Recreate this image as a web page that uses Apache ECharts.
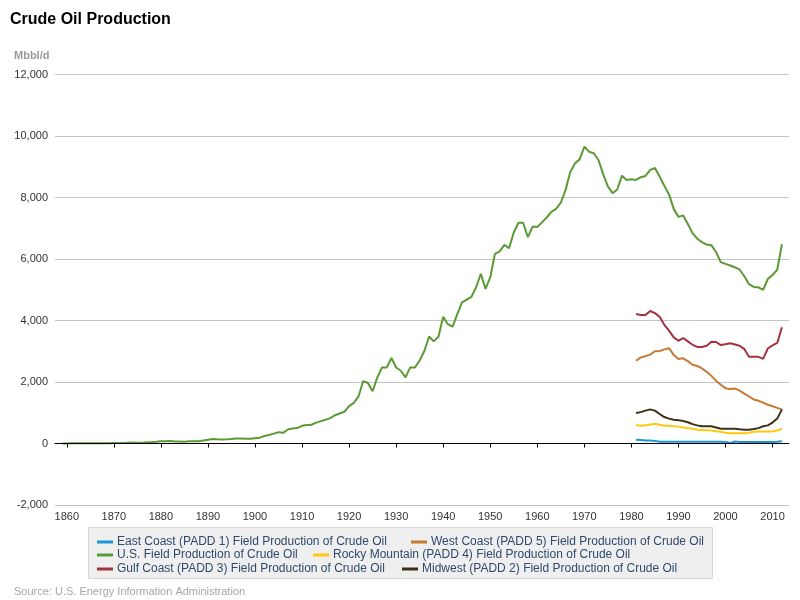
<!DOCTYPE html>
<html>
<head>
<meta charset="utf-8">
<script src="https://cdn.jsdelivr.net/npm/echarts@6/dist/echarts.min.js"></script>
<style>html,body{margin:0;padding:0;background:#fff}#c{width:800px;height:600px}</style>
</head>
<body>
<div id="c"></div>
<script>
// ---- data ----
const usStartYear = 1859;
const regionStartYear = 1981;
const usValues = [
  0,                                          // 1859
  1, 6, 8, 7, 6, 7, 10, 9, 10, 12,            // 1860-1869
  14, 14, 17, 27, 30, 24, 25, 37, 42, 55,     // 1870-1879
  72, 76, 82, 64, 66, 60, 77, 77, 76, 96,     // 1880-1889
  124, 149, 139, 133, 135, 145, 166, 166, 152, 156, // 1890-1899
  174, 190, 243, 275, 321, 369, 346, 457, 490, 501, // 1900-1909
  574, 604, 609, 680, 728, 770, 824, 919, 975, 1033, // 1910-1919
  1214, 1320, 1531, 2030, 1966, 1700, 2150, 2470, 2470, 2780, // 1920-1929
  2470, 2366, 2148, 2474, 2474, 2700, 3010, 3480, 3320, 3470, // 1930-1939
  4120, 3880, 3800, 4210, 4590, 4680, 4770, 5080, 5520, 5030, // 1940-1949
  5400, 6165, 6250, 6458, 6350, 6860, 7180, 7180, 6710, 7054, // 1950-1959
  7040, 7190, 7350, 7530, 7630, 7830, 8240, 8820, 9110, 9240, // 1960-1969
  9650, 9490, 9440, 9220, 8760, 8360, 8140, 8260, 8710, 8570, // 1970-1979
  8590, 8570, 8660, 8700, 8900, 8960, 8680, 8380, 8100, 7630, // 1980-1989
  7370, 7420, 7140, 6840, 6660, 6550, 6470, 6450, 6220, 5900, // 1990-1999
  5840, 5790, 5730, 5660, 5440, 5180, 5090, 5080, 5000, 5350, // 2000-2009
  5480, 5650, 6480                                            // 2010-2012
];
// 1981-2012
const eastValues = [120,110,95,95,85,60,55,55,55,55,55,55,55,55,55,55,55,55,55,50,15,65,50,50,50,50,50,50,50,50,55,70];
const westValues = [2690,2800,2840,2890,3000,3010,3060,3100,2880,2750,2770,2680,2560,2520,2440,2330,2200,2040,1910,1800,1770,1790,1720,1620,1530,1430,1390,1330,1260,1210,1160,1110];
const rockyValues = [600,580,590,620,640,610,580,580,560,550,520,500,480,450,440,430,420,400,380,350,330,330,330,330,350,380,390,390,390,390,420,480];
const gulfValues = [4210,4180,4180,4310,4240,4120,3860,3670,3450,3340,3430,3320,3210,3140,3140,3180,3310,3300,3200,3230,3260,3220,3180,3070,2820,2820,2820,2750,3090,3190,3270,3780];
const midwestValues = [990,1020,1070,1110,1070,960,860,810,770,760,730,690,630,590,560,560,560,520,480,480,480,480,460,450,450,470,500,560,590,680,810,1110];
const xTickYears = [1860,1870,1880,1890,1900,1910,1920,1930,1940,1950,1960,1970,1980,1990,2000,2010];
const seriesNames = [
  'East Coast (PADD 1) Field Production of Crude Oil',
  'West Coast (PADD 5) Field Production of Crude Oil',
  'U.S. Field Production of Crude Oil',
  'Rocky Mountain (PADD 4) Field Production of Crude Oil',
  'Gulf Coast (PADD 3) Field Production of Crude Oil',
  'Midwest (PADD 2) Field Production of Crude Oil'
];

// ---- build ----
function pairs(start, vals) { return vals.map((v, i) => [start + i, v]); }
const FONT = 'Liberation Sans, Arial, sans-serif';
const colors = ['#1a96d4', '#c77a33', '#5b9a35', '#ffc90e', '#a3333f', '#3b3116'];
const seriesData = [
  pairs(regionStartYear, eastValues),
  pairs(regionStartYear, westValues),
  pairs(usStartYear, usValues),
  pairs(regionStartYear, rockyValues),
  pairs(regionStartYear, gulfValues),
  pairs(regionStartYear, midwestValues)
];
const series = seriesNames.map((n, i) => ({
  name: n, type: 'line', data: seriesData[i], showSymbol: false, symbol: 'none',
  lineStyle: { width: 2, color: colors[i] }, itemStyle: { color: colors[i] },
  z: 3, animation: false
}));
series[2].markLine = {
  silent: true, symbol: 'none', label: { show: false }, animation: false,
  lineStyle: { color: '#000', width: 1, type: 'solid' },
  data: [{ yAxis: 0 }]
};
series[2].z = 2;

const legendPos = [
  { left: 97, top: 536 }, { left: 411, top: 536 },
  { left: 97, top: 549 }, { left: 313, top: 549 },
  { left: 97, top: 563 }, { left: 402, top: 563 }
];
const legends = seriesNames.map((n, i) => ({
  data: [n], left: legendPos[i].left, top: legendPos[i].top, padding: 0,
  icon: 'rect', itemWidth: 16, itemHeight: 3, itemGap: 0,
  textStyle: { fontFamily: FONT, fontSize: 12, color: '#2f4a6d', padding: [0, 0, 0, -1] },
  selectedMode: false
}));

const chart = echarts.init(document.getElementById('c'), null, { renderer: 'canvas' });
chart.setOption({
  animation: false,
  backgroundColor: '#fff',
  title: [
    { text: 'Crude Oil Production', left: 10, top: 12, padding: 0,
      textStyle: { fontFamily: FONT, fontSize: 16, fontWeight: 'bold', color: '#000' } },
    { text: 'Mbbl/d', left: 14, top: 50, padding: 0,
      textStyle: { fontFamily: FONT, fontSize: 11, fontWeight: 'bold', color: '#999' } }
  ],
  legend: legends,
  graphic: [
    { type: 'rect', z: -1, shape: { x: 88.5, y: 527.5, width: 624, height: 51 },
      style: { fill: '#efefef', stroke: '#d6d6d6', lineWidth: 1 } },
    { type: 'text', left: 14, top: 586,
      style: { text: 'Source: U.S. Energy Information Administration', fontFamily: FONT, fontSize: 11, fill: '#a6a6a6' } }
  ],
  grid: { left: 55, right: 11, top: 74.5, bottom: 95, containLabel: false },
  xAxis: {
    type: 'value', min: 1857.5, max: 2013.5,
    axisLine: { show: true, lineStyle: { color: '#000', width: 1 } },
    axisTick: { show: true, customValues: xTickYears, length: 4, lineStyle: { color: '#000' } },
    axisLabel: { customValues: xTickYears, fontFamily: FONT, fontSize: 11, color: '#333', margin: 6,
      formatter: v => String(v) },
    splitLine: { show: false }
  },
  yAxis: {
    type: 'value', min: -2000, max: 12000, interval: 2000,
    axisLine: { show: false }, axisTick: { show: false },
    axisLabel: { fontFamily: FONT, fontSize: 11, color: '#333', margin: 7,
      formatter: v => v.toLocaleString('en-US') },
    splitLine: { show: true, lineStyle: { color: '#c4c4c4', width: 1 } }
  },
  series: series
});
</script>
</body>
</html>
